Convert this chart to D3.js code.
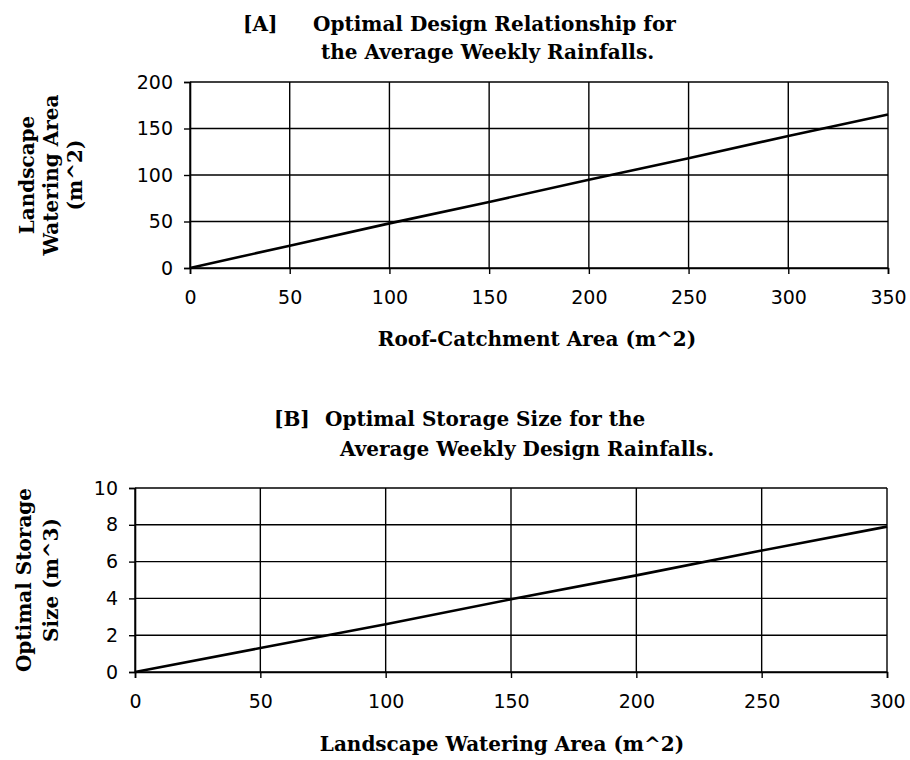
<!DOCTYPE html>
<html>
<head>
<meta charset="utf-8">
<script src="https://cdn.jsdelivr.net/npm/d3@7"></script>
<style>
  body { margin: 0; background: #fff; }
  .tick text { font-family: "DejaVu Sans", Verdana, sans-serif; font-size: 19px; fill: #000; }
  .ttl { font-family: "DejaVu Serif", Georgia, serif; font-weight: bold; font-size: 20px; fill: #000; }
</style>
</head>
<body>
<svg id="chart" width="910" height="760"></svg>
<script>
// ---- panel A data ----
const roofArea = [0, 50, 100, 150, 200, 250, 300, 350];
const wateringArea = [0, 24, 48, 71, 95, 118, 142, 165];
const aXTicks = [0, 50, 100, 150, 200, 250, 300, 350];
const aYTicks = [0, 50, 100, 150, 200];

// ---- panel B data ----
const landscapeArea = [0, 50, 100, 150, 200, 250, 300];
const storageSize = [0, 1.3, 2.6, 3.95, 5.25, 6.6, 7.9];
const bXTicks = [0, 50, 100, 150, 200, 250, 300];
const bYTicks = [0, 2, 4, 6, 8, 10];

const svg = d3.select("#chart");

function panel(opt) {
  const x = d3.scaleLinear().domain(opt.xDomain).range([opt.left, opt.right]);
  const y = d3.scaleLinear().domain(opt.yDomain).range([opt.bottom, opt.top]);
  const g = svg.append("g");

  // grid
  g.selectAll(".vg").data(opt.xTicks).enter().append("line")
    .attr("x1", d => x(d)).attr("x2", d => x(d))
    .attr("y1", opt.top).attr("y2", opt.bottom)
    .attr("stroke", "#000").attr("stroke-width", 1.4);
  g.selectAll(".hg").data(opt.yTicks).enter().append("line")
    .attr("x1", opt.left).attr("x2", opt.right)
    .attr("y1", d => y(d)).attr("y2", d => y(d))
    .attr("stroke", "#000").attr("stroke-width", 1.4);

  // axes
  const xa = g.append("g").attr("transform", "translate(0," + opt.bottom + ")")
    .call(d3.axisBottom(x).tickValues(opt.xTicks).tickSize(6).tickPadding(17));
  const ya = g.append("g").attr("transform", "translate(" + opt.left + ",0)")
    .call(d3.axisLeft(y).tickValues(opt.yTicks).tickSize(6).tickPadding(11));
  [xa, ya].forEach(a => {
    a.select(".domain").attr("stroke", "#000").attr("stroke-width", 1.6);
    a.selectAll(".tick line").attr("stroke", "#000").attr("stroke-width", 1.4);
  });

  // series line
  const pts = opt.xs.map((v, i) => [v, opt.ys[i]]);
  g.append("path").datum(pts)
    .attr("fill", "none").attr("stroke", "#000").attr("stroke-width", 2.6)
    .attr("d", d3.line().x(d => x(d[0])).y(d => y(d[1])));

  // titles
  opt.title.forEach(t => {
    g.append("text").attr("class", "ttl").attr("x", t[1]).attr("y", t[2]).text(t[0]);
  });
  g.append("text").attr("class", "ttl")
    .attr("x", opt.xTitle[1]).attr("y", opt.xTitle[2])
    .attr("text-anchor", "middle").text(opt.xTitle[0]);
  const cy = (opt.top + opt.bottom) / 2;
  opt.yTitle.forEach(t => {
    g.append("text").attr("class", "ttl")
      .attr("transform", "translate(" + t[1] + "," + cy + ") rotate(-90)")
      .attr("text-anchor", "middle").text(t[0]);
  });
}

panel({
  xDomain: [0, 350], yDomain: [0, 200],
  left: 190, right: 888, top: 82, bottom: 268,
  xTicks: aXTicks, yTicks: aYTicks,
  xs: roofArea, ys: wateringArea,
  title: [["[A]", 243, 31], ["Optimal Design Relationship for", 313, 31], ["the Average Weekly Rainfalls.", 321, 59]],
  xTitle: ["Roof-Catchment Area (m^2)", 537, 346],
  yTitle: [["Landscape", 34], ["Watering Area", 58], ["(m^2)", 82]]
});

panel({
  xDomain: [0, 300], yDomain: [0, 10],
  left: 135, right: 887, top: 488, bottom: 672,
  xTicks: bXTicks, yTicks: bYTicks,
  xs: landscapeArea, ys: storageSize,
  title: [["[B]", 274, 426], ["Optimal Storage Size for the", 325, 426], ["Average Weekly Design Rainfalls.", 340, 456]],
  xTitle: ["Landscape Watering Area (m^2)", 502, 751],
  yTitle: [["Optimal Storage", 31], ["Size (m^3)", 58]]
});
</script>
</body>
</html>
